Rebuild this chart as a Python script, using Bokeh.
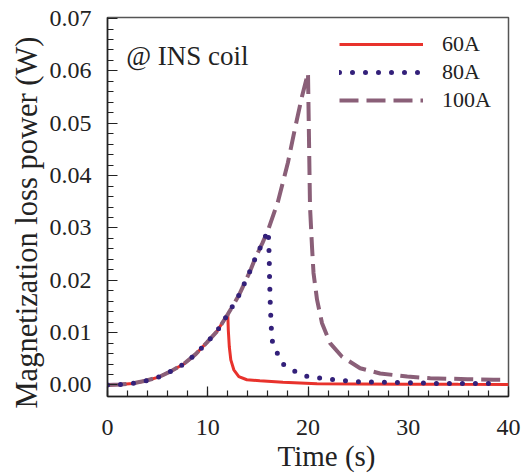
from bokeh.plotting import figure
from bokeh.models import Range1d, FixedTicker, Legend, LegendItem, Label, Title
from bokeh.embed import file_html
from bokeh.resources import INLINE

# ---- data ----
t_60 = [0, 1.25, 2.5, 3.8, 5.1, 6.3, 7.6, 8.8, 9.9, 10.9, 11.7, 12.0,
        12.05, 12.15, 12.3, 12.6, 13.1, 13.9, 15.2, 17.5, 20.9, 25, 30, 35, 40]
p_60 = [0.0, 0.0001, 0.0003, 0.0008, 0.0015, 0.0026, 0.0040, 0.0059, 0.0081, 0.0102, 0.0126, 0.0135,
        0.0105, 0.0073, 0.0048, 0.0029, 0.0016, 0.0010, 0.0008, 0.0005, 0.00025, 0.0002, 0.00015, 0.00012, 0.0001]

t_80 = [0, 1.25, 2.5, 3.8, 5.1, 6.3, 7.6, 8.8, 9.9, 10.9, 11.7, 12.0, 13.15, 14.3, 14.8, 15.45, 16.0,
        16.07, 16.13, 16.17, 16.23, 16.3, 16.4, 16.9, 17.6, 18.9, 20.0, 21.4, 22.7, 23.9, 25.2, 27.9, 32.9, 39.0]
p_80 = [0.0, 0.0001, 0.0003, 0.0008, 0.0015, 0.0026, 0.0040, 0.0059, 0.0081, 0.0102, 0.0126, 0.0135, 0.0173, 0.0221, 0.0245, 0.0271, 0.0295,
        0.0280, 0.0245, 0.0200, 0.0159, 0.0125, 0.0086, 0.0062, 0.0038, 0.0024, 0.0016, 0.0013, 0.0010, 0.0008, 0.0006, 0.0005, 0.0003, 0.0003]

t_100 = [0, 1.25, 2.5, 3.8, 5.1, 6.3, 7.6, 8.8, 9.9, 10.9, 11.7, 12.0, 13.15, 14.3, 14.8, 15.45, 16.0,
         17.0, 18.0, 18.7, 19.4, 20.0,
         20.03, 20.2, 20.4, 20.55, 20.9, 21.4, 22.2, 23.4, 25.2, 27.2, 29.9, 32.2, 35.9, 38.5, 39.4]
p_100 = [0.0, 0.0001, 0.0003, 0.0008, 0.0015, 0.0026, 0.0040, 0.0059, 0.0081, 0.0102, 0.0126, 0.0135, 0.0173, 0.0221, 0.0245, 0.0271, 0.0295,
         0.0350, 0.0425, 0.0490, 0.0551, 0.0596,
         0.0558, 0.0341, 0.0264, 0.0214, 0.0163, 0.0118, 0.0080, 0.0054, 0.0032, 0.0022, 0.0016, 0.0013, 0.0011, 0.0010, 0.0010]

x_ticks = [0, 10, 20, 30, 40]
y_ticks = [0.00, 0.01, 0.02, 0.03, 0.04, 0.05, 0.06, 0.07]
labels = ["60A", "80A", "100A"]
x_title = "Time (s)"
y_title = "Magnetization loss power (W)"
note = "@ INS coil"

FONT = "'Liberation Serif', 'Times New Roman', serif"

p = figure(width=522, height=474, output_backend="svg", toolbar_location=None,
           x_range=Range1d(0, 40), y_range=Range1d(-0.0022, 0.0702),
           min_border_left=107, min_border_right=14, min_border_top=17, min_border_bottom=78)
p.xgrid.visible = False
p.ygrid.visible = False
p.outline_line_color = "#555555"
p.outline_line_width = 1.5
p.background_fill_color = "white"
p.border_fill_color = "white"

r60 = p.line(t_60, p_60, line_color="#e8322c", line_width=3)
r100 = p.line(t_100, p_100, line_color="#8a5f78", line_width=4, line_dash="19 8")
r80 = p.line(t_80, p_80, line_color="#33207a", line_width=5, line_dash="0 13", line_cap="round")

for ax in (p.xaxis[0], p.yaxis[0]):
    ax.axis_line_color = "#222222"
    ax.axis_line_width = 1.5
    ax.major_tick_line_color = "#222222"
    ax.minor_tick_line_color = "#222222"
    ax.major_tick_line_width = 1.2
    ax.minor_tick_line_width = 1.2
    ax.major_tick_in = 10
    ax.major_tick_out = 0
    ax.minor_tick_in = 6
    ax.minor_tick_out = 0
    ax.major_label_text_font = FONT
    ax.major_label_text_font_size = "24px"
    ax.major_label_text_color = "#222222"

p.xaxis.ticker = FixedTicker(ticks=x_ticks, minor_ticks=[i * 2 for i in range(21)])
p.yaxis.ticker = FixedTicker(ticks=y_ticks, minor_ticks=[i * 0.002 for i in range(36)])
p.xaxis.major_label_overrides = {v: str(v) for v in x_ticks}
p.yaxis.major_label_overrides = {v: f"{v:.2f}" for v in y_ticks}
p.xaxis.major_label_standoff = 23
p.yaxis.major_label_standoff = 16

# axis titles as side titles, so they can be shifted like in the reference
p.add_layout(Title(text=x_title, text_font=FONT, text_font_size="29px", text_font_style="normal",
                   text_color="#222222", align="left", offset=170, standoff=0), "below")
p.add_layout(Title(text=y_title, text_font=FONT, text_font_size="30.5px", text_font_style="normal",
                   text_color="#222222", align="left", offset=-12, standoff=6), "left")

legend = Legend(items=[LegendItem(label=labels[0], renderers=[r60]),
                       LegendItem(label=labels[1], renderers=[r80]),
                       LegendItem(label=labels[2], renderers=[r100])],
                location=(232, 282), padding=0, margin=0, spacing=0,
                glyph_width=84, glyph_height=28, label_height=28, label_standoff=19,
                label_text_font=FONT, label_text_font_size="22px", label_text_color="#222222",
                border_line_color=None, background_fill_alpha=0)
p.add_layout(legend)

p.add_layout(Label(x=1.86, y=0.0629, text=note, text_font=FONT, text_font_size="27px",
                   text_color="#222222", text_baseline="alphabetic"))

open("out.html", "w").write(file_html(p, INLINE))
